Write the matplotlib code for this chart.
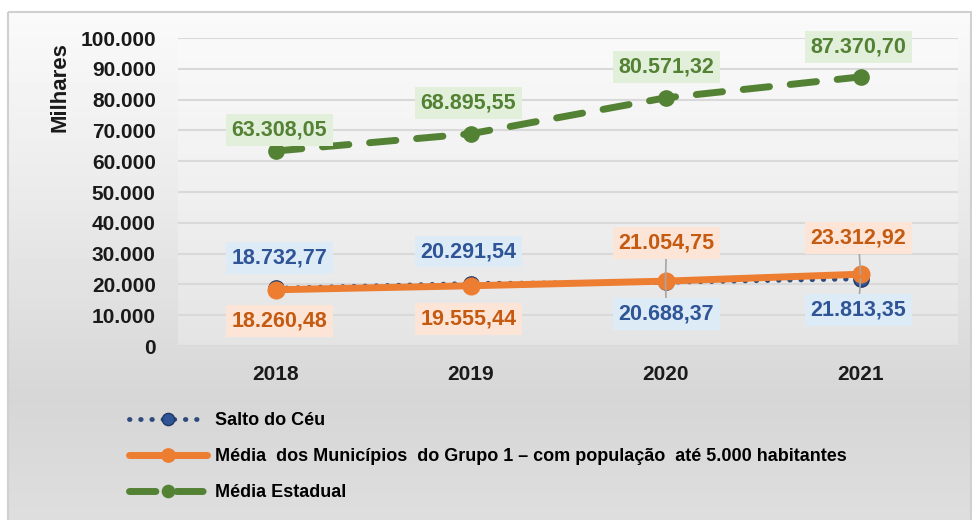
import numpy as np
import matplotlib
matplotlib.use("Agg")
import matplotlib.pyplot as plt
from matplotlib.patches import Rectangle

plt.rcParams['font.family'] = ['Liberation Sans', 'DejaVu Sans']
plt.rcParams['font.weight'] = 'bold'
plt.rcParams['axes.labelweight'] = 'bold'

anos = ["2018", "2019", "2020", "2021"]
salto = [18732.77, 20291.54, 20688.37, 21813.35]
grupo1 = [18260.48, 19555.44, 21054.75, 23312.92]
estadual = [63308.05, 68895.55, 80571.32, 87370.70]

nomes = ["Salto do Céu",
         "Média  dos Municípios  do Grupo 1 – com população  até 5.000 habitantes",
         "Média Estadual"]

def fmt(v):
    s = f"{v:,.2f}"
    return s.replace(",", "X").replace(".", ",").replace("X", ".")

fig = plt.figure(figsize=(9.72, 5.2), dpi=100)

# fundo com degrade
bg = fig.add_axes([0, 0, 1, 1], zorder=-2)
bg.set_xlim(0, 972)
bg.set_ylim(520, 0)
bg.axis("off")
ys = np.array([12, 200, 400, 520])
cs = np.array([250, 234, 214, 222])
yy = np.arange(12, 520)
grad = np.interp(yy, ys, cs) / 255.0
img = np.repeat(grad[:, None], 2, axis=1)
bg.imshow(img, cmap="gray", vmin=0, vmax=1, extent=[8, 972, 520, 12], aspect="auto")
bg.add_patch(Rectangle((8, 12), 963, 520, fill=False, edgecolor="#d0d0d0", lw=1.5))

ax = fig.add_axes([178 / 972, 1 - 346 / 520, 780 / 972, 308 / 520])
ax.patch.set_facecolor("white")
ax.patch.set_alpha(0.25)
x = np.arange(len(anos))

ax.plot(x, salto, color="#2f4b7c", lw=3.5, linestyle=(0, (0.1, 2.2)),
        dash_capstyle="round", marker="o", ms=11, mfc="#2f5597", mec="#1f3864",
        zorder=3, label=nomes[0])
ax.plot(x, grupo1, color="#ed7d31", lw=5, solid_capstyle="round", marker="o", ms=12,
        zorder=4, label=nomes[1])
ax.plot(x, estadual, color="#548235", lw=5, linestyle=(0, (3.8, 3)),
        dash_capstyle="round", marker="o", ms=11, zorder=4, label=nomes[2])

ax.set_ylim(0, 100000)
ax.set_xlim(-0.5, 3.5)
ax.set_yticks(np.arange(0, 100001, 10000))
ax.set_yticklabels([f"{v:,}".replace(",", ".") for v in range(0, 100001, 10000)])
ax.set_xticks(x)
ax.set_xticklabels(anos)
ax.tick_params(axis="both", length=0, labelsize=15, colors="#1a1a1a")
ax.tick_params(axis="x", pad=14)
ax.tick_params(axis="y", pad=16)
ax.grid(axis="y", color="#d9d9d9", lw=1.5)
ax.set_axisbelow(True)
for s in ax.spines.values():
    s.set_visible(False)
ax.set_ylabel("Milhares", fontsize=16, fontweight="bold", color="#1a1a1a")
ax.yaxis.set_label_coords(-0.138, 0.84)

# rotulos: deslocamento em pixels (dx, dy), leader line
off_est = [(4, 21), (-2, 31), (1, 31), (-2, 30)]
off_salto = [(4, 30), (-2, 32), (1, -32), (-2, -31)]
off_g1 = [(4, -31), (-2, -33), (1, 38), (-2, 36)]
lider = [False, False, True, True]

def rotular(vals, offs, tcol, fcol, linhas):
    for i, v in enumerate(vals):
        dx, dy = offs[i]
        ap = None
        if linhas and lider[i]:
            ap = dict(arrowstyle="-", color="#a6a6a6", lw=1.2, shrinkA=0, shrinkB=0)
        ax.annotate(fmt(v), (x[i], v), xytext=(dx * 0.72, dy * 0.72),
                    textcoords="offset points", ha="center", va="center",
                    fontsize=15.5, color=tcol, zorder=6,
                    bbox=dict(boxstyle="square,pad=0.25", fc=fcol, ec="none"),
                    arrowprops=ap)

rotular(estadual, off_est, "#548235", "#e2efda", False)
rotular(salto, off_salto, "#2f5597", "#ddebf7", True)
rotular(grupo1, off_g1, "#c55a11", "#fce4d6", True)

fig.legend(loc="upper left", bbox_to_anchor=(113 / 972, 1 - 396 / 520), frameon=False,
           fontsize=13, handlelength=4.3, handletextpad=0.45, labelspacing=1.05,
           markerscale=0.8)

fig.savefig("out.png", dpi=100)
